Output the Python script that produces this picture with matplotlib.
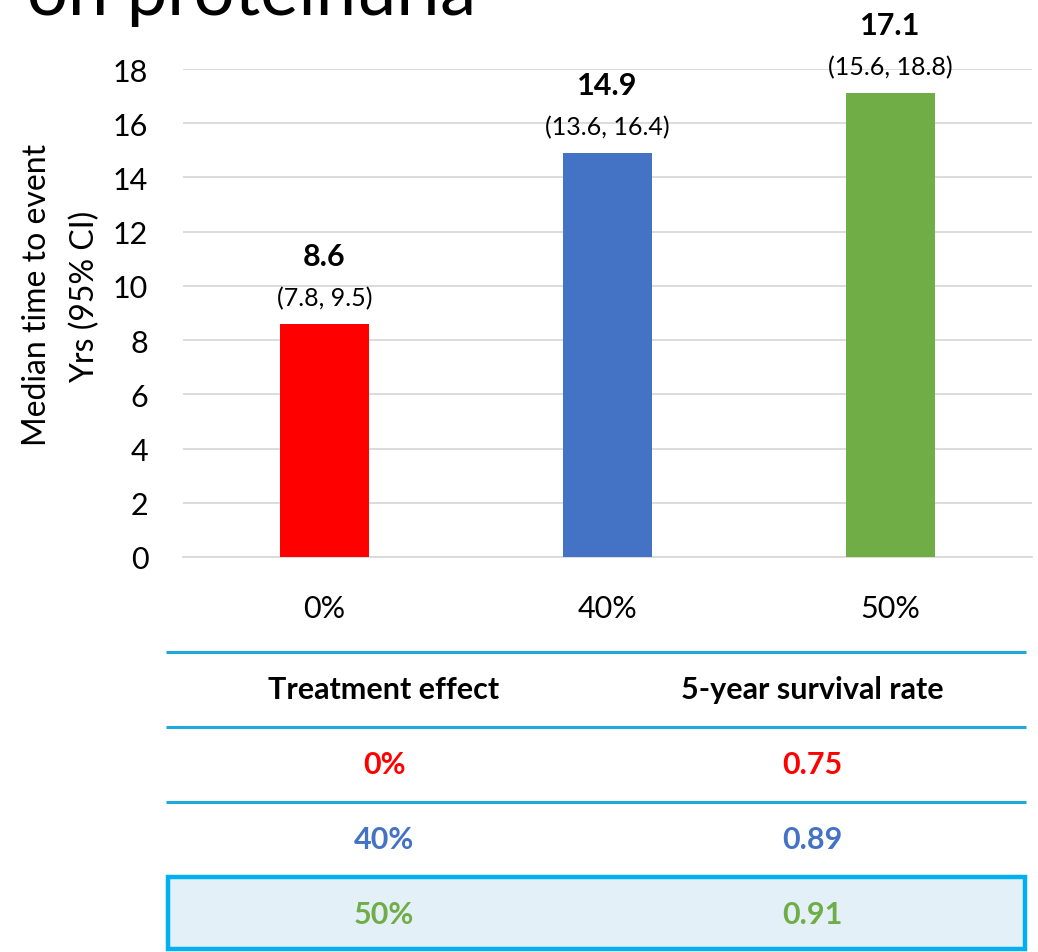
import matplotlib
matplotlib.use("Agg")
import matplotlib.pyplot as plt
from matplotlib.patches import Rectangle

# Data
categories = ["0%", "40%", "50%"]
medians = [8.6, 14.9, 17.1]
ci_low = [7.8, 13.6, 15.6]
ci_high = [9.5, 16.4, 18.8]
bar_colors = ["#FF0000", "#4472C4", "#70AD47"]

table_header = ["Treatment effect", "5-year survival rate"]
table_effect = ["0%", "40%", "50%"]
table_survival = [0.75, 0.89, 0.91]

W, H = 1038, 953
fig = plt.figure(figsize=(W / 100, H / 100), dpi=100)
plt.rcParams["font.family"] = ["Lato", "DejaVu Sans"]

def fx(px):
    return px / W

def fy(py):
    return 1 - py / H

# Slide title, running off the top edge
fig.text(fx(27), fy(15), "on proteinuria", fontsize=52,
         ha="left", va="baseline", color="black")

# Bar chart
ax = fig.add_axes([fx(183), fy(558), fx(1032) - fx(183), fy(70) - fy(558)])
x = list(range(len(categories)))
ax.bar(x, medians, width=0.315, color=bar_colors, zorder=3)
ax.set_xlim(-0.5, len(categories) - 0.5)
ax.set_ylim(0, 18)
ax.set_yticks(range(0, 19, 2))
ax.set_xticks(x)
ax.set_xticklabels(categories)
ax.tick_params(axis="both", length=0, labelsize=22, colors="black")
ax.tick_params(axis="y", pad=25)
ax.tick_params(axis="x", pad=27)
ax.grid(axis="y", color="#D9D9D9", lw=1.3, zorder=0)
for s in ["top", "right", "left"]:
    ax.spines[s].set_visible(False)
ax.spines["bottom"].set_color("#D9D9D9")
ax.spines["bottom"].set_linewidth(1.3)

for xi, m, lo, hi in zip(x, medians, ci_low, ci_high):
    ax.annotate(f"({lo:.1f}, {hi:.1f})", (xi, m), xytext=(0, 19), textcoords="offset points",
                ha="center", va="center", fontsize=18, clip_on=False)
    ax.annotate(f"{m:.1f}", (xi, m), xytext=(0, 49), textcoords="offset points",
                ha="center", va="center", fontsize=22, fontweight="bold", clip_on=False)

fig.text(fx(37), fy(295), "Median time to event", rotation=90, ha="center", va="center", fontsize=23)
fig.text(fx(85), fy(297), "Yrs (95% CI)", rotation=90, ha="center", va="center", fontsize=23)

# Summary table
tax = fig.add_axes([fx(160), 0, fx(1032) - fx(160), fy(640)])
tax.set_xlim(160, 1032)
tax.set_ylim(953, 640)
tax.axis("off")

row_h = 75
first_line = 653
col_x = [384, 812]
line_color = "#1FA8DA"
n_rows = len(table_effect) + 1

# highlighted last row
hl_top = first_line + (n_rows - 1) * row_h
tax.add_patch(Rectangle((168, hl_top), 857, 950 - hl_top, facecolor="#E4F0F7",
                        edgecolor="#00B0F0", lw=3.2, zorder=1))
for i in range(n_rows - 1):
    tax.hlines(first_line + i * row_h, 166, 1026, color=line_color, lw=2.2, zorder=2)

def row_center(i):
    return first_line + i * row_h + row_h / 2

for j in range(2):
    tax.text(col_x[j], row_center(0), table_header[j], ha="center", va="center",
             fontsize=22, fontweight="bold", color="black")
for i, (eff, surv, c) in enumerate(zip(table_effect, table_survival, bar_colors), start=1):
    tax.text(col_x[0], row_center(i), eff, ha="center", va="center",
             fontsize=22, fontweight="bold", color=c)
    tax.text(col_x[1], row_center(i), f"{surv:.2f}", ha="center", va="center",
             fontsize=22, fontweight="bold", color=c)

fig.savefig("out.png", dpi=100)
